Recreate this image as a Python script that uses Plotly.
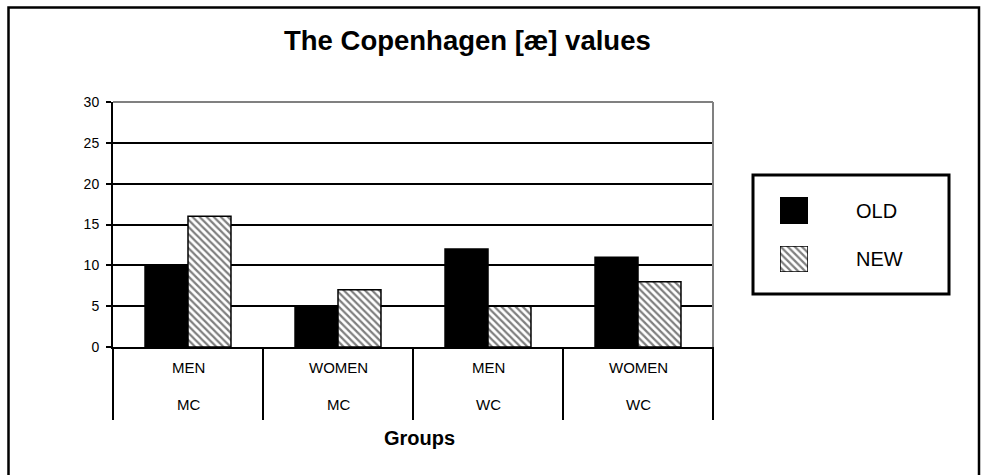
import plotly.graph_objects as go

# ---- data ----
genders = ["MEN", "WOMEN", "MEN", "WOMEN"]
classes = ["MC", "MC", "WC", "WC"]
groups = [f"{g} {c}" for g, c in zip(genders, classes)]
old_values = [10, 5, 12, 11]
new_values = [16, 7, 5, 8]
series_names = ["OLD", "NEW"]
y_ticks = [0, 5, 10, 15, 20, 25, 30]

# ---- geometry (pixels, screen coordinates) ----
W, H = 985, 475
ML, MR, MT, MB = 113, 20, 102, 128
PW = W - ML - MR          # paper width in px
PH = H - MT - MB          # paper height in px
PLOT_W = 600              # width of the bar plot area


def px(x):
    return (x - ML) / PW


def py(y):
    return (H - MB - y) / PH


dom_r = PLOT_W / PW
FONT = "Liberation Sans, Arial, sans-serif"

hatch = dict(shape="\\", fgcolor="black", bgcolor="white", size=5, solidity=0.45)

fig = go.Figure()
fig.add_trace(go.Bar(x=groups, y=old_values, name=series_names[0],
                     marker=dict(color="black", line=dict(color="black", width=1.5)),
                     showlegend=False))
fig.add_trace(go.Bar(x=groups, y=new_values, name=series_names[1],
                     marker=dict(color="white", pattern=hatch,
                                 line=dict(color="black", width=1.5)),
                     showlegend=False))

# legend swatches (drawn as bars in tiny overlay axes)
fig.add_trace(go.Bar(x=[series_names[0]], y=[1], width=[1], xaxis="x2", yaxis="y2",
                     marker=dict(color="black", line=dict(color="black", width=1.5)),
                     showlegend=False, hoverinfo="skip"))
fig.add_trace(go.Bar(x=[series_names[1]], y=[1], width=[1], xaxis="x3", yaxis="y3",
                     marker=dict(color="white", pattern=hatch,
                                 line=dict(color="black", width=1.5)),
                     showlegend=False, hoverinfo="skip"))

sw_x = [px(780), px(808)]
hidden = dict(visible=False, fixedrange=True)
fig.update_layout(
    width=W, height=H,
    margin=dict(l=ML, r=MR, t=MT, b=MB, pad=0),
    paper_bgcolor="white", plot_bgcolor="white",
    barmode="group", bargap=0.427, bargroupgap=0,
    font=dict(family=FONT, color="black", size=14),
    xaxis=dict(domain=[0, dom_r], showticklabels=False, ticks="",
               showline=True, linecolor="black", linewidth=2, showgrid=False,
               range=[-0.5, len(groups) - 0.5]),
    yaxis=dict(range=[0, 30], tickvals=y_ticks, showgrid=True, gridcolor="black",
               gridwidth=2, showline=True, linecolor="black", linewidth=2,
               ticks="outside", ticklen=5, tickwidth=1.5, tickcolor="black",
               ticklabelstandoff=4, zeroline=False,
               tickfont=dict(size=14, family=FONT)),
    xaxis2=dict(domain=sw_x, range=[-0.5, 0.5], anchor="y2", **hidden),
    yaxis2=dict(domain=[py(224), py(197)], range=[0, 1], anchor="x2", **hidden),
    xaxis3=dict(domain=sw_x, range=[-0.5, 0.5], anchor="y3", **hidden),
    yaxis3=dict(domain=[py(272), py(246)], range=[0, 1], anchor="x3", **hidden),
    showlegend=False,
)

shapes = []
# outer chart border
shapes.append(dict(type="rect", xref="paper", yref="paper",
                   x0=px(8.5), x1=px(979), y0=py(490), y1=py(7.5),
                   line=dict(color="black", width=2.5), layer="below"))
# plot-area top and right border (gray)
shapes.append(dict(type="line", xref="paper", yref="paper", x0=0, x1=dom_r, y0=1, y1=1,
                   line=dict(color="#808080", width=2)))
shapes.append(dict(type="line", xref="paper", yref="paper", x0=dom_r, x1=dom_r, y0=0, y1=1,
                   line=dict(color="#808080", width=2)))
# category dividers below the axis
for k in range(len(groups) + 1):
    xp = k / len(groups) * dom_r
    shapes.append(dict(type="line", xref="paper", yref="paper", x0=xp, x1=xp,
                       y0=0, y1=py(420), line=dict(color="black", width=2)))
# legend box
shapes.append(dict(type="rect", xref="paper", yref="paper",
                   x0=px(753), x1=px(949), y0=py(294), y1=py(175),
                   line=dict(color="black", width=3)))
fig.update_layout(shapes=shapes)

ann = []
ann.append(dict(text="<b>The Copenhagen [æ] values</b>", xref="paper", yref="paper",
                x=px(467), y=py(40), showarrow=False, xanchor="center", yanchor="middle",
                font=dict(size=27.5, family=FONT)))
ann.append(dict(text="<b>Groups</b>", xref="paper", yref="paper",
                x=px(419), y=py(438), showarrow=False, xanchor="center", yanchor="middle",
                font=dict(size=20, family=FONT)))
for g, gen, cls in zip(groups, genders, classes):
    ann.append(dict(text=gen, xref="x", yref="paper", x=g, y=py(367), showarrow=False,
                    xanchor="center", yanchor="middle", font=dict(size=15, family=FONT)))
    ann.append(dict(text=cls, xref="x", yref="paper", x=g, y=py(404), showarrow=False,
                    xanchor="center", yanchor="middle", font=dict(size=15, family=FONT)))
ann.append(dict(text=series_names[0], xref="paper", yref="paper", x=px(854), y=py(211),
                showarrow=False, xanchor="left", yanchor="middle",
                font=dict(size=20, family=FONT)))
ann.append(dict(text=series_names[1], xref="paper", yref="paper", x=px(854), y=py(259),
                showarrow=False, xanchor="left", yanchor="middle",
                font=dict(size=20, family=FONT)))
fig.update_layout(annotations=ann)

fig.write_html(
    "out.html",
    config={"displayModeBar": False},
    post_script="document.body.style.margin='0';document.body.style.overflow='hidden';",
)
